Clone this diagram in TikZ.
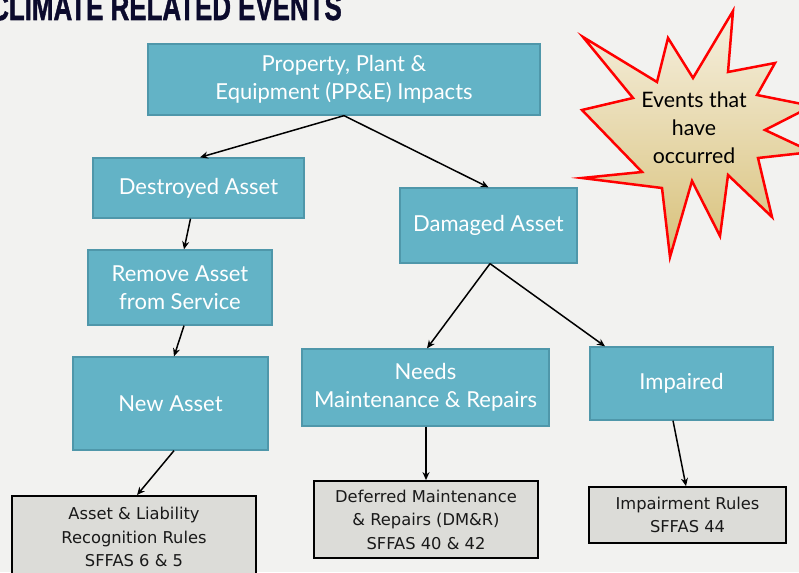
\documentclass[tikz,border=0pt]{standalone}
\usepackage{fontspec}
\usepackage{graphicx}
\setmainfont{Lato}
\newfontfamily\boxfont{DejaVu Sans}
\newfontfamily\titlefont[FakeBold=1.5]{Liberation Sans Bold}
\usetikzlibrary{arrows.meta}
\definecolor{bg}{HTML}{F2F2F0}
\definecolor{teal}{HTML}{63B3C6}
\definecolor{tealdark}{HTML}{4F97AA}
\definecolor{graybox}{HTML}{DCDCD8}
\definecolor{navy}{HTML}{0B0A2C}
\definecolor{startop}{HTML}{F6F0E0}
\definecolor{starbot}{HTML}{D8C17A}
\tikzset{
  tbox/.style={draw=tealdark, line width=1.3pt, fill=teal, text=white, align=center,
    font=\fontsize{22}{28}\selectfont, inner sep=0pt},
  rbox/.style={draw=black, line width=1.8pt, fill=graybox, text=black!90, align=center,
    font=\boxfont\fontsize{16.3}{23.5}\selectfont, inner sep=0pt},
  arr/.style={line width=1.5pt, -{Stealth[length=8pt,width=7pt]}},
}
\begin{document}
\begin{tikzpicture}[x=1pt,y=-1pt]
\useasboundingbox (0,0) rectangle (799,572);
\clip (0,0) rectangle (799,572);
\fill[bg] (0,0) rectangle (799,572);

% title
\node[anchor=base east, inner sep=0pt, text=navy] (title) at (342,20)
  {\scalebox{0.7}[1]{\titlefont\fontsize{37}{37}\selectfont CLIMATE RELATED EVENTS}};

% starburst
\shade[top color=startop, bottom color=starbot, draw=red, line width=2.5pt, line join=miter]
  (583,37) -- (657,82) -- (668,38) -- (693,78) -- (733,11) -- (728,72) -- (775,63) --
  (757,95) -- (812,106) -- (765,130) -- (812,152) -- (758,158) -- (772,217) --
  (728,175) -- (720,236) -- (692,181) -- (670,257) -- (662,188) -- (582,178) --
  (642,172) -- (582,110) -- (633,98) -- cycle;
\node[align=center, font=\fontsize{21.3}{28}\selectfont, text=black] (events) at (694,128)
  {Events that\\have\\occurred};

% teal boxes
\node[tbox, minimum width=392pt, minimum height=71pt] (ppe) at (344,79.5)
  {Property, Plant \&\\Equipment (PP\&E) Impacts};
\node[tbox, minimum width=211pt, minimum height=60pt] (destroyed) at (198.5,188)
  {Destroyed Asset};
\node[tbox, minimum width=177pt, minimum height=75pt] (damaged) at (488.5,225.5)
  {Damaged Asset};
\node[tbox, minimum width=184pt, minimum height=75pt] (remove) at (180,287.5)
  {Remove Asset\\from Service};
\node[tbox, minimum width=195pt, minimum height=93pt] (new) at (170.5,403.5)
  {New Asset};
\node[tbox, minimum width=247pt, minimum height=77pt] (needs) at (425.5,387.5)
  {Needs\\Maintenance \& Repairs};
\node[tbox, minimum width=183pt, minimum height=73pt] (impaired) at (681.5,383.5)
  {Impaired};

% gray boxes
\node[rbox, minimum width=244pt, minimum height=82pt] (alrules) at (134,537)
  {Asset \& Liability\\Recognition Rules\\SFFAS 6 \& 5};
\node[rbox, minimum width=224pt, minimum height=77pt] (dmr) at (426,519.5)
  {Deferred Maintenance\\\& Repairs (DM\&R)\\SFFAS 40 \& 42};
\node[rbox, minimum width=197pt, minimum height=56pt] (imprules) at (687.5,515)
  {Impairment Rules\\SFFAS 44};

% connectors
\draw[arr] (ppe.south) -- ([xshift=1.5pt]destroyed.north);
\draw[arr] (ppe.south) -- (damaged.north);
\draw[arr] ([xshift=-8pt]destroyed.south) -- ([xshift=4pt]remove.north);
\draw[arr] ([xshift=4pt]remove.south) -- ([xshift=3.5pt]new.north);
\draw[arr] ([xshift=3.5pt]new.south) -- ([xshift=3pt]alrules.north);
\draw[arr] ([xshift=1.5pt]damaged.south) -- ([xshift=1.5pt]needs.north);
\draw[arr] ([xshift=1.5pt]damaged.south) -- ([xshift=-76.5pt]impaired.north);
\draw[arr] ([xshift=0.5pt]needs.south) -- (dmr.north);
\draw[arr] ([xshift=-8.5pt]impaired.south) -- ([xshift=-1.5pt]imprules.north);
\end{tikzpicture}
\end{document}
